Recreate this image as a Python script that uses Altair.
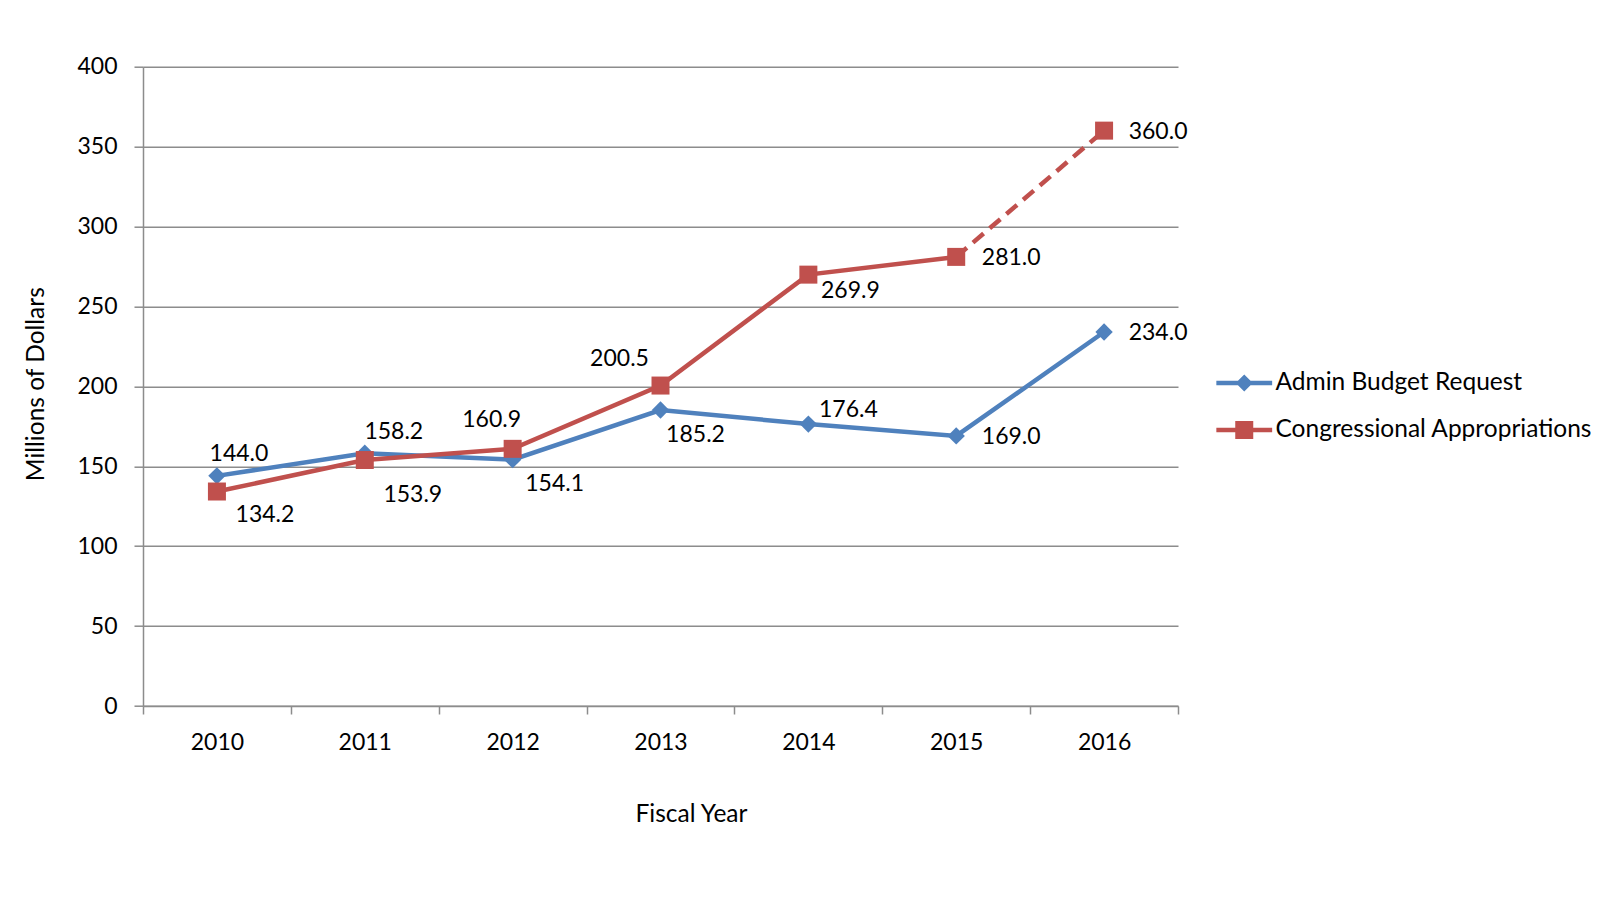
import altair as alt
import pandas as pd

# ---------------- data ----------------
YEARS = ["2010", "2011", "2012", "2013", "2014", "2015", "2016"]
ADMIN = [144.0, 158.2, 154.1, 185.2, 176.4, 169.0, 234.0]
CONGRESS = [134.2, 153.9, 160.9, 200.5, 269.9, 281.0, 360.0]
SERIES = ["Admin Budget Request", "Congressional Appropriations"]
Y_TICKS = [0, 50, 100, 150, 200, 250, 300, 350, 400]

rows = []
for yr, v in zip(YEARS, ADMIN):
    rows.append({"year": yr, "series": SERIES[0], "value": v})
for yr, v in zip(YEARS, CONGRESS):
    rows.append({"year": yr, "series": SERIES[1], "value": v})
df = pd.DataFrame(rows)

# ---------------- styles ----------------
BLUE = "#4F81BD"
RED = "#C0504D"
GRID = "#8c8c8c"
FONT = "Lato"
FS = 23        # numbers
FS_TXT = 24.5  # words

# label placement offsets (pixels) per point
LABEL_OFFSETS = {
    (SERIES[0], "2010"): (22, -22),
    (SERIES[0], "2011"): (29, -21),
    (SERIES[0], "2012"): (42, 24),
    (SERIES[0], "2013"): (35, 25),
    (SERIES[0], "2014"): (40, -14),
    (SERIES[0], "2015"): (55, 1),
    (SERIES[0], "2016"): (54, 1),
    (SERIES[1], "2010"): (48, 23),
    (SERIES[1], "2011"): (48, 35),
    (SERIES[1], "2012"): (-21, -29),
    (SERIES[1], "2013"): (-41, -27),
    (SERIES[1], "2014"): (42, 16),
    (SERIES[1], "2015"): (55, 1),
    (SERIES[1], "2016"): (54, 1),
}

PATH_DIAMOND = "M-3.1,-0.25L3.1,-0.25L3.1,0.25L-3.1,0.25Z M0,-0.95L0.95,0L0,0.95L-0.95,0Z"
PATH_SQUARE = "M-3.1,-0.25L3.1,-0.25L3.1,0.25L-3.1,0.25Z M-1,-1L1,-1L1,1L-1,1Z"

x_enc = alt.X(
    "year:N",
    scale=alt.Scale(type="band", domain=YEARS, paddingInner=0, paddingOuter=0),
    axis=alt.Axis(
        title="Fiscal Year",
        titleX=548, titleY=108, titleAlign="center", titleBaseline="middle",
        titleFont=FONT, titleFontSize=FS_TXT, titleFontWeight="normal", titleColor="black",
        labelFont=FONT, labelFontSize=FS, labelColor="black", labelAngle=0,
        labelBaseline="middle", labelPadding=28,
        tickBand="extent", tickSize=8, tickColor=GRID, tickWidth=1.5,
        domainColor=GRID, domainWidth=1.5, grid=False,
    ),
)
y_enc = alt.Y(
    "value:Q",
    scale=alt.Scale(domain=[0, 400], nice=False, zero=True),
    axis=alt.Axis(
        title="Millions of Dollars", values=Y_TICKS,
        titleX=-107, titleY=317, titleAngle=270, titleAlign="center", titleBaseline="middle",
        titleFont=FONT, titleFontSize=FS_TXT, titleFontWeight="normal", titleColor="black",
        labelFont=FONT, labelFontSize=FS, labelColor="black", labelPadding=17,
        tickSize=9, tickColor=GRID, tickWidth=1.5,
        domainColor=GRID, domainWidth=1.5,
        grid=True, gridColor=GRID, gridWidth=1.5,
    ),
)

base = alt.Chart(df)

def series_filter(s):
    return alt.FieldEqualPredicate(field="series", equal=s)

blue_line = base.transform_filter(series_filter(SERIES[0])).mark_line(
    color=BLUE, strokeWidth=4.5).encode(x=x_enc, y=y_enc)
red_line = base.transform_filter(series_filter(SERIES[1])).transform_filter(
    alt.FieldOneOfPredicate(field="year", oneOf=YEARS[:-1])).mark_line(
    color=RED, strokeWidth=4.5).encode(x=x_enc, y=y_enc)
red_dash = base.transform_filter(series_filter(SERIES[1])).transform_filter(
    alt.FieldOneOfPredicate(field="year", oneOf=YEARS[-2:])).mark_line(
    color=RED, strokeWidth=4.5, strokeDash=[14, 8]).encode(x=x_enc, y=y_enc)

blue_pts = base.transform_filter(series_filter(SERIES[0])).mark_point(
    shape="diamond", filled=True, size=300, color=BLUE, opacity=1).encode(x=x_enc, y=y_enc)
red_pts = base.transform_filter(series_filter(SERIES[1])).mark_point(
    shape="square", filled=True, size=324, color=RED, opacity=1).encode(x=x_enc, y=y_enc)

label_layers = []
for (s, yr), (dx, dy) in LABEL_OFFSETS.items():
    label_layers.append(
        base.transform_filter(series_filter(s)).transform_filter(
            alt.FieldEqualPredicate(field="year", equal=yr)).mark_text(
            font=FONT, fontSize=FS, color="black", align="center",
            baseline="middle", dx=dx, dy=dy).encode(
            x=x_enc, y=y_enc, text=alt.Text("value:Q", format=".1f"))
    )

legend_props = dict(
    title=None, orient="none", legendX=1089, legendY=304, padding=0,
    labelFont=FONT, labelFontSize=FS_TXT, labelColor="black", labelLimit=0,
    symbolSize=324, labelOffset=19, rowPadding=22, symbolStrokeWidth=0,
)
legend_layer = base.transform_filter("false").mark_point(
    filled=True, opacity=1, size=324).encode(
    x=x_enc, y=y_enc,
    color=alt.Color("series:N", scale=alt.Scale(domain=SERIES, range=[BLUE, RED]),
                    legend=alt.Legend(**legend_props)),
    shape=alt.Shape("series:N", scale=alt.Scale(domain=SERIES, range=[PATH_DIAMOND, PATH_SQUARE]),
                    legend=alt.Legend(**legend_props)),
)

chart = alt.layer(
    blue_line, red_line, red_dash, blue_pts, red_pts, *label_layers, legend_layer
).properties(
    width=1035, height=639.3,
    padding={"left": 135, "top": 58.7, "right": 434, "bottom": 183},
    autosize=alt.AutoSizeParams(type="none"),
    background="white",
).configure_view(stroke=None)

chart.save("out.html", embed_options={"renderer": "svg", "actions": False})
